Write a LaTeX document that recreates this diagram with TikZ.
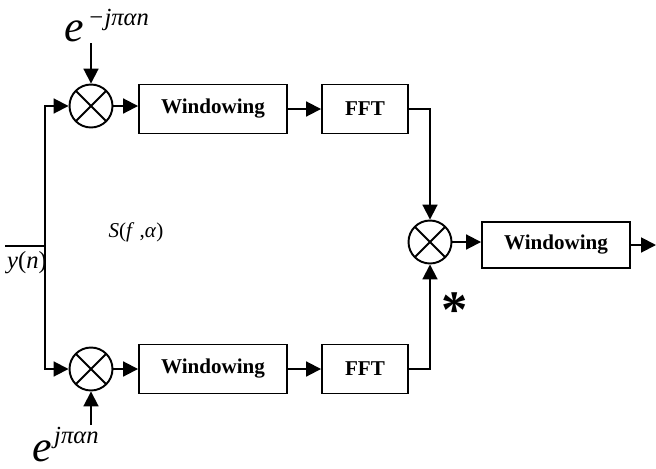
\documentclass[tikz,border=0pt]{standalone}
\usepackage{fontspec}
\setmainfont{Liberation Serif}
\usetikzlibrary{arrows.meta,calc,positioning}

\begin{document}
\begin{tikzpicture}[x=0.02cm,y=0.02cm,line width=1.1pt,
  arr/.style={-{Triangle[length=8.5pt,width=8.5pt]}},
  blk/.style={draw,minimum height=0.98cm,inner sep=0pt,font=\bfseries\fontsize{12}{14}\selectfont},
  mult/.style={circle,draw,minimum size=0.86cm,inner sep=0pt,
    path picture={\draw (path picture bounding box.north west) -- (path picture bounding box.south east)
      (path picture bounding box.south west) -- (path picture bounding box.north east);}},
  expo/.style={anchor=base west,inner sep=0pt}]
\useasboundingbox (0,0) rectangle (656,468);
% upper branch
\node[mult] (m1) at (91,362) {};
\node[blk,minimum width=2.96cm] (w1) at (213,359) {Windowing};
\node[blk,minimum width=1.72cm] (f1) at (365,359) {FFT};
% lower branch
\node[mult] (m2) at (91,99) {};
\node[blk,minimum width=2.96cm] (w2) at (213,99) {Windowing};
\node[blk,minimum width=1.72cm] (f2) at (365,99) {FFT};
% product and output
\node[mult] (m3) at (430,226) {};
\node[blk,minimum width=2.96cm,minimum height=0.92cm] (w3) at (556,223) {Windowing};
\coordinate (out) at (656,223);
% input
\coordinate (in) at (5,222);
\coordinate (sp) at (45,222);
\node[font=\fontsize{14}{16}\selectfont] (yn) at (27,205) {\textit{y}(\textit{n})};
\node[font=\fontsize{12}{14}\selectfont] (sfa) at (136,236) {\textit{S}(\textit{f} ,\textit{α})};
% exponentials
\node[expo] (e1) at (64,427) {{\fontsize{25}{25}\selectfont\itshape e}\hspace{2pt}\raisebox{9pt}{\fontsize{14}{14}\selectfont\itshape −jπαn}};
\coordinate (t1) at (91,425);
\node[expo] (e2) at (32,7) {{\fontsize{25}{25}\selectfont\itshape e}\hspace{1pt}\raisebox{10pt}{\fontsize{14}{14}\selectfont\itshape jπαn}};
\coordinate (t2) at (91,43);
\node[font=\fontsize{30}{30}\selectfont\bfseries] (cj) at (455,158) {*};

\draw (in) -- (sp);
\draw[arr] (sp) |- (m1);
\draw[arr] (sp) |- (m2);
\draw[arr] (t1) -- (m1);
\draw[arr] (t2) -- (m2);
\draw[arr] (m1) -- (m1 -| w1.west);
\draw[arr] (w1.east |- f1) -- (f1);
\draw[arr] (m2) -- (w2);
\draw[arr] (w2) -- (f2);
\draw[arr] (f1.east) -| (m3);
\draw[arr] (f2.east) -| (m3);
\draw[arr] (m3) -- (m3 -| w3.west);
\draw[arr] (w3) -- (out);
\end{tikzpicture}
\end{document}
